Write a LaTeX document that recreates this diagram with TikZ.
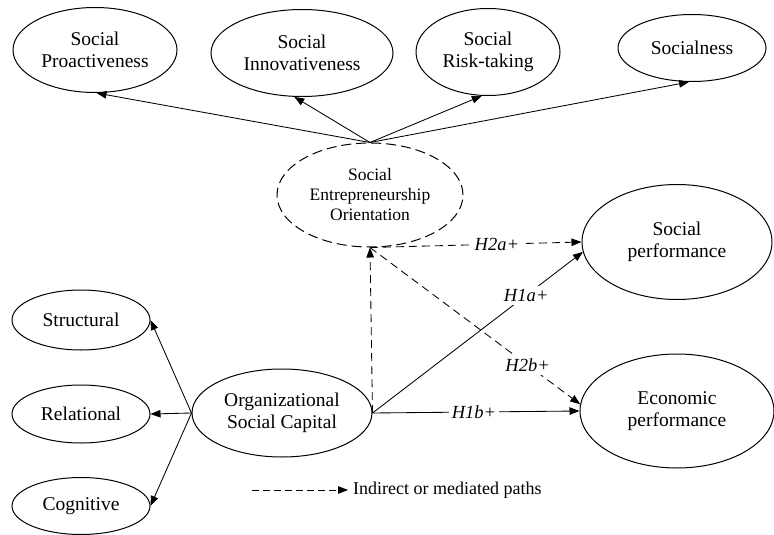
\documentclass[tikz,border=0pt]{standalone}
\usepackage{fontspec}
\setmainfont{Liberation Serif}
\usetikzlibrary{shapes.geometric,arrows.meta}
\begin{document}
\begin{tikzpicture}[x=1pt,y=-1pt,
  construct/.style={ellipse,draw,line width=1pt,inner sep=0pt,align=center,
     font=\fontsize{19.5}{22.5}\selectfont},
  link/.style={line width=0.85pt,-{Triangle[length=10pt,width=7.5pt]}},
  indirect/.style={link,dash pattern=on 8pt off 5pt},
  hlabel/.style={fill=white,inner sep=3pt,font=\fontsize{18.5}{22}\selectfont\itshape}]
\useasboundingbox (0,0) rectangle (774,535);
% first-order constructs of SEO
\node[construct,minimum width=164,minimum height=85] (pro) at (95,50) {Social\\Proactiveness};
\node[construct,minimum width=182,minimum height=87] (inn) at (302,53) {Social\\Innovativeness};
\node[construct,minimum width=144,minimum height=87] (risk) at (488,52) {Social\\Risk-taking};
\node[construct,minimum width=148,minimum height=67] (soc) at (692,48) {Socialness};
% SEO
\node[construct,dash pattern=on 10pt off 5pt,minimum width=186,minimum height=104,
      font=\fontsize{17.5}{20}\selectfont] (seo) at (370,195) {Social\\Entrepreneurship\\Orientation};
% outcomes
\node[construct,minimum width=190,minimum height=115] (sp) at (677,242) {Social\\performance};
\node[construct,minimum width=194,minimum height=114] (ep) at (677,411) {Economic\\performance};
% OSC and dimensions
\node[construct,minimum width=180,minimum height=88] (osc) at (282,413) {Organizational\\Social Capital};
\node[construct,minimum width=138,minimum height=60] (str) at (81,320) {Structural};
\node[construct,minimum width=138,minimum height=58] (rel) at (81,414) {Relational};
\node[construct,minimum width=138,minimum height=57] (cog) at (81,506) {Cognitive};
% SEO dimensions
\draw[link] (seo.north) -- (pro.-88);
\draw[link] (seo.north) -- (inn.-100);
\draw[link] (seo.north) -- (risk.-98);
\draw[link] (seo.north) -- (soc.-95);
% OSC dimensions
\draw[link] (osc.west) -- (str.east);
\draw[link] (osc.west) -- (rel.east);
\draw[link] (osc.west) -- (cog.east);
% hypotheses
\draw[link] (osc.east) -- node[hlabel,pos=0.73] {H1a+} (sp.186);
\draw[link] (osc.east) -- node[hlabel,pos=0.49] {H1b+} (ep.west);
\draw[indirect] (osc.east) -- (seo.south);
\draw[indirect] (seo.south) -- node[hlabel,pos=0.6] {H2a+} (sp.west);
\draw[indirect] (seo.south) -- node[hlabel,pos=0.75] {H2b+} (ep.176);
% legend
\coordinate (lgA) at (252,490);
\node[anchor=west,inner sep=0pt,font=\fontsize{18}{20}\selectfont] (lgT) at (353,490) {Indirect or mediated paths};
\draw[indirect,dash pattern=on 7pt off 4pt,shorten >=5pt] (lgA) -- (lgT.west);
\end{tikzpicture}
\end{document}
